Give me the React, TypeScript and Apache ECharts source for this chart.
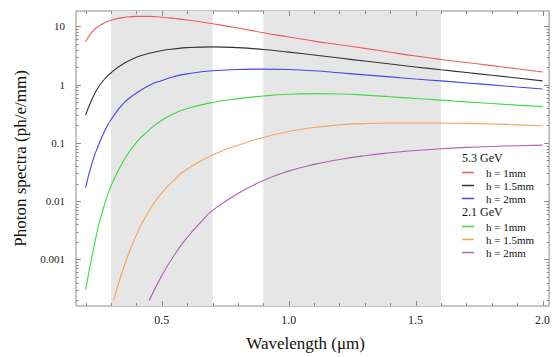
import React, { useEffect, useRef } from 'react';
import * as echarts from 'echarts';

// Wavelength grids (µm)
const lambdaFull = [0.2, 0.225, 0.25, 0.275, 0.3, 0.35, 0.4, 0.45, 0.5, 0.55, 0.6, 0.7, 0.8, 0.9, 1.0, 1.1, 1.2, 1.3, 1.4, 1.5, 1.6, 1.7, 1.8, 1.9, 2.0];
const lambdaOrange = [0.31, 0.35, 0.4, 0.45, 0.5, 0.55, 0.6, 0.7, 0.8, 0.9, 1.0, 1.1, 1.2, 1.3, 1.4, 1.5, 1.6, 1.7, 1.8, 1.9, 2.0];
const lambdaPurple = [0.45, 0.5, 0.55, 0.6, 0.65, 0.7, 0.8, 0.9, 1.0, 1.1, 1.2, 1.3, 1.4, 1.5, 1.6, 1.7, 1.8, 1.9, 2.0];

// 5.3 GeV
const e53h1 = [5.5, 8.0, 10.0, 11.6, 12.8, 14.2, 14.9, 14.9, 14.4, 13.7, 12.9, 11.1, 9.4, 7.8, 6.6, 5.6, 4.85, 4.2, 3.6, 3.1, 2.71, 2.4, 2.12, 1.87, 1.65];
const e53h15 = [0.30, 0.56, 0.90, 1.25, 1.6, 2.3, 2.95, 3.45, 3.85, 4.12, 4.33, 4.45, 4.32, 4.02, 3.62, 3.22, 2.86, 2.54, 2.26, 2.01, 1.80, 1.62, 1.45, 1.30, 1.16];
const e53h2 = [0.017, 0.045, 0.09, 0.16, 0.25, 0.48, 0.72, 0.97, 1.18, 1.38, 1.53, 1.73, 1.82, 1.85, 1.82, 1.73, 1.60, 1.47, 1.36, 1.25, 1.16, 1.07, 0.99, 0.91, 0.84];
// 2.1 GeV
const e21h1 = [0.0003, 0.00112, 0.00363, 0.0089, 0.0182, 0.050, 0.102, 0.166, 0.245, 0.320, 0.389, 0.495, 0.575, 0.638, 0.684, 0.700, 0.692, 0.661, 0.619, 0.579, 0.542, 0.507, 0.474, 0.445, 0.420];
const e21h15 = [0.000195, 0.000724, 0.00263, 0.00692, 0.0138, 0.0234, 0.0355, 0.0617, 0.0912, 0.124, 0.157, 0.184, 0.204, 0.214, 0.219, 0.220, 0.219, 0.216, 0.211, 0.204, 0.197];
const e21h2 = [0.000195, 0.000525, 0.0012, 0.00237, 0.00417, 0.00692, 0.0135, 0.0226, 0.0327, 0.0427, 0.0519, 0.0603, 0.0676, 0.0741, 0.0794, 0.0836, 0.0869, 0.0893, 0.0914];

const seriesNames = ['5.3 GeV|h = 1mm', '5.3 GeV|h = 1.5mm', '5.3 GeV|h = 2mm', '2.1 GeV|h = 1mm', '2.1 GeV|h = 1.5mm', '2.1 GeV|h = 2mm'];
const seriesColors = ['#f25a5a', '#333333', '#4545f0', '#3ddc3d', '#f5a55a', '#b060b0'];

// Shaded wavelength bands
const bands = [[0.3, 0.7], [0.9, 1.6]];

// Frame tick positions
const xTickValues = [0.2, 0.3, 0.4, 0.5, 0.6, 0.7, 0.8, 0.9, 1.0, 1.1, 1.2, 1.3, 1.4, 1.5, 1.6, 1.7, 1.8, 1.9, 2.0];
const yMajorTicks = [0.001, 0.01, 0.1, 1, 10];

const X_MIN = 0.162;
const X_MAX = 2.026;
const Y_MIN = 0.000158;
const Y_MAX = 18.4;

const FONT = '"Liberation Serif", "Times New Roman", serif';

function buildYTicks(): number[] {
  const out: number[] = [];
  for (let d = -4; d <= 1; d++) {
    for (let m = 1; m <= 9; m++) {
      const v = m * Math.pow(10, d);
      if (v > Y_MIN && v < Y_MAX) out.push(v);
    }
  }
  return out;
}

export default function App() {
  const ref = useRef<HTMLDivElement>(null);
  useEffect(() => {
    if (!ref.current) return;
    const chart = echarts.init(ref.current, undefined, { renderer: 'svg' });
    const pairs = (xs: number[], ys: number[]) => xs.map((x, i) => [x, ys[i]]);
    const datasets = [
      pairs(lambdaFull, e53h1),
      pairs(lambdaFull, e53h15),
      pairs(lambdaFull, e53h2),
      pairs(lambdaFull, e21h1),
      pairs(lambdaOrange, e21h15),
      pairs(lambdaPurple, e21h2),
    ];
    const tickColor = '#8a8a8a';
    const yTicks = buildYTicks();

    const lineSeries = datasets.map((d, i) => ({
      type: 'line',
      name: seriesNames[i],
      data: d,
      showSymbol: false,
      symbol: 'none',
      smooth: 0.5,
      z: 3,
      lineStyle: { color: seriesColors[i], width: 1.1 },
      itemStyle: { color: seriesColors[i] },
    }));

    const legendCommon = {
      orient: 'vertical',
      left: 462,
      icon: 'rect',
      itemWidth: 12,
      itemHeight: 1.5,
      itemGap: 0,
      padding: 0,
      formatter: (n: string) => n.split('|')[1],
      textStyle: { fontFamily: FONT, fontSize: 11, color: '#111', lineHeight: 13, padding: [0, 0, 0, 7] },
    };

    chart.setOption({
      animation: false,
      grid: { left: 76, right: 1, top: 11, bottom: 40, show: true, borderColor: tickColor, borderWidth: 1, backgroundColor: 'transparent' },
      xAxis: {
        type: 'value',
        min: X_MIN,
        max: X_MAX,
        splitNumber: 4,
        axisLine: { show: false },
        axisTick: { show: false },
        splitLine: { show: false },
        axisLabel: {
          showMinLabel: false,
          showMaxLabel: false,
          margin: 8,
          fontFamily: FONT,
          fontSize: 12,
          color: '#222',
          formatter: (v: number) => (Math.abs(v * 2 - Math.round(v * 2)) < 1e-6 ? v.toFixed(1) : ''),
        },
        name: 'Wavelength (\u03bcm)',
        nameLocation: 'middle',
        nameGap: 29,
        nameTextStyle: { fontFamily: FONT, fontSize: 17, color: '#111', padding: [0, 14, 0, 0] },
      },
      yAxis: {
        type: 'log',
        min: Y_MIN,
        max: Y_MAX,
        splitNumber: 5,
        axisLine: { show: false },
        axisTick: { show: false },
        splitLine: { show: false },
        axisLabel: {
          showMinLabel: false,
          showMaxLabel: false,
          margin: 11,
          fontFamily: FONT,
          fontSize: 11,
          color: '#222',
          formatter: (v: number) => {
            const l = Math.log10(v);
            if (Math.abs(l - Math.round(l)) > 1e-6) return '';
            const r = Math.round(l);
            return r >= 0 ? String(Math.pow(10, r)) : '0.' + '0'.repeat(-r - 1) + '1';
          },
        },
        name: 'Photon spectra (ph/e/mm)',
        nameLocation: 'middle',
        nameGap: 45,
        nameTextStyle: { fontFamily: FONT, fontSize: 17, color: '#111' },
      },
      legend: [
        { ...legendCommon, top: 166, data: seriesNames.slice(0, 3) },
        { ...legendCommon, top: 220, data: seriesNames.slice(3, 6) },
      ],
      graphic: [
        { type: 'text', left: 462, top: 152, style: { text: '5.3 GeV', font: '12px ' + FONT, fill: '#111' } },
        { type: 'text', left: 462, top: 206, style: { text: '2.1 GeV', font: '12px ' + FONT, fill: '#111' } },
      ],
      series: [
        {
          type: 'line',
          name: 'bands',
          data: [],
          z: 1,
          silent: true,
          markArea: {
            silent: true,
            itemStyle: { color: '#e6e6e6' },
            data: bands.map((b) => [{ xAxis: b[0] }, { xAxis: b[1] }]),
          },
        },
        ...lineSeries,
        {
          type: 'custom',
          name: 'xticks',
          z: 5,
          silent: true,
          data: xTickValues.map((x) => [x, 1]),
          renderItem: (params: any, api: any) => {
            const x = api.value(0);
            const pt = api.coord([x, 1]);
            const cs = params.coordSys;
            const px = Math.round(pt[0]) + 0.5;
            const major = Math.abs(x * 2 - Math.round(x * 2)) < 1e-6;
            const len = major ? 5 : 3;
            const bottom = cs.y + cs.height;
            return {
              type: 'group',
              children: [
                { type: 'line', shape: { x1: px, y1: bottom, x2: px, y2: bottom - len }, style: { stroke: tickColor, lineWidth: 1 } },
                { type: 'line', shape: { x1: px, y1: cs.y, x2: px, y2: cs.y + len }, style: { stroke: tickColor, lineWidth: 1 } },
              ],
            };
          },
        },
        {
          type: 'custom',
          name: 'yticks',
          z: 5,
          silent: true,
          data: yTicks.map((v) => [1, v]),
          renderItem: (params: any, api: any) => {
            const v = api.value(1);
            const pt = api.coord([1, v]);
            const cs = params.coordSys;
            const py = Math.round(pt[1]) + 0.5;
            const major = yMajorTicks.some((m) => Math.abs(m - v) / m < 1e-6);
            const len = major ? 5 : 2.5;
            const right = cs.x + cs.width;
            return {
              type: 'group',
              children: [
                { type: 'line', shape: { x1: cs.x, y1: py, x2: cs.x + len, y2: py }, style: { stroke: tickColor, lineWidth: 1 } },
                { type: 'line', shape: { x1: right, y1: py, x2: right - len, y2: py }, style: { stroke: tickColor, lineWidth: 1 } },
              ],
            };
          },
        },
      ],
    });
    return () => chart.dispose();
  }, []);
  return <div ref={ref} style={{ position: 'absolute', left: 0, top: 0, width: 553, height: 357 }} />;
}
